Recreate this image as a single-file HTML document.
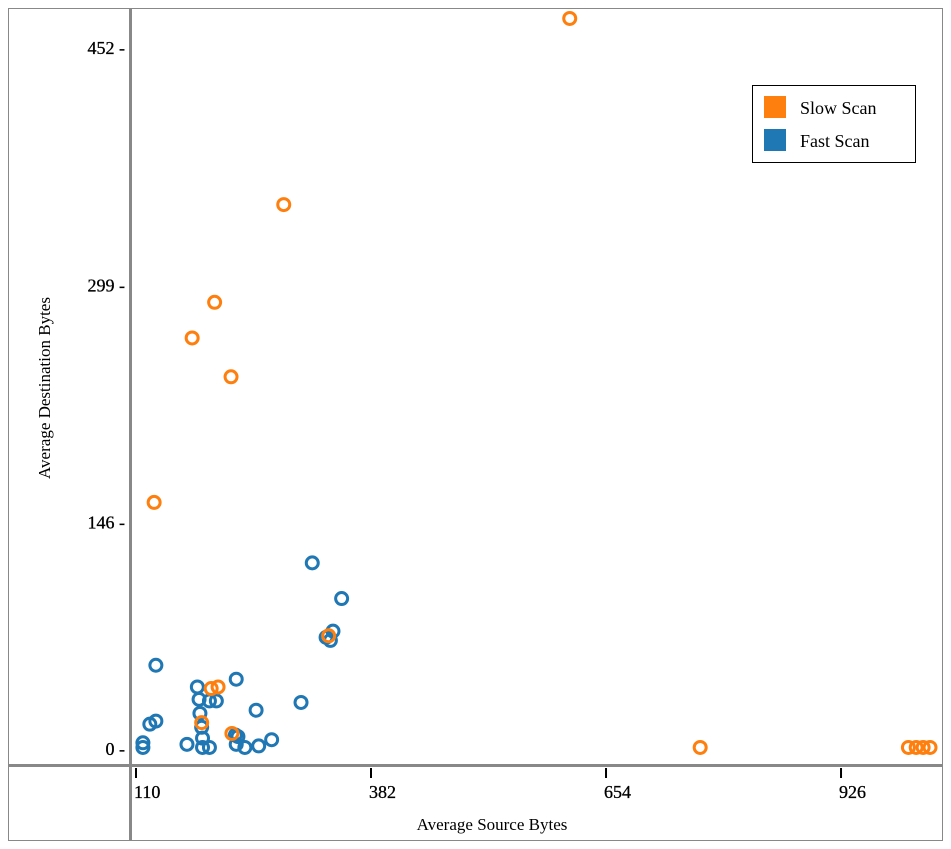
<!DOCTYPE html>
<html><head><meta charset="utf-8"><style>
body{margin:0;background:#fff;}
svg{display:block;font-family:"Liberation Serif",serif;}
</style></head><body>
<svg id="chart" width="951" height="849">
<rect x="8.5" y="8.5" width="934" height="832" fill="#fff" stroke="#888"/>
<line x1="130.5" y1="8" x2="130.5" y2="840" stroke="#888" stroke-width="3"/>
<line x1="8" y1="765.5" x2="942" y2="765.5" stroke="#888" stroke-width="3"/>
<g id="ticks"></g>
<g id="pts"></g>
<text x="492" y="830" font-size="17" text-anchor="middle">Average Source Bytes</text>
<text transform="translate(50,388) rotate(-90)" font-size="17" text-anchor="middle">Average Destination Bytes</text>
<g>
<rect x="752.5" y="85.5" width="163" height="77" fill="#fff" stroke="#000"/>
<rect x="764" y="96" width="22" height="22" fill="#ff7f0e"/>
<text x="800" y="114" font-size="18">Slow Scan</text>
<rect x="764" y="129" width="22" height="22" fill="#1f77b4"/>
<text x="800" y="147" font-size="18">Fast Scan</text>
</g>
</svg>
<script>
const xTicks=[110,382,654,926];
const yTicks=[0,146,299,452];
const slowX=[612,281,201,175,220,131,333,197,205,186,221,763,1004,1013,1021,1029];
const slowY=[471,351,288,265,240,159,73,39,40,17,10,1,1,1,1,1];
const fastX=[314,348,338,330,335,133,226,181,183,195,203,301,249,184,126,133,186,187,267,118,118,169,225,228,226,187,195,236,252];
const fastY=[120,97,76,72,70,54,45,40,32,31,31,30,25,23,16,18,14,7,6,4,1,3,9,8,3,1,1,1,2];
const sx=v=>136+(v-110)*0.864;
const sy=v=>749-v*1.551;
const NS='http://www.w3.org/2000/svg';
const tg=document.getElementById('ticks');
function mk(tag,attrs,parent){const e=document.createElementNS(NS,tag);for(const k in attrs)e.setAttribute(k,attrs[k]);parent.appendChild(e);return e;}
xTicks.forEach(t=>{
 const l=mk('line',{x1:sx(t),x2:sx(t),y1:768,y2:778,stroke:'#000','stroke-width':2},tg);
 
 
 const tx=mk('text',{x:sx(t)-2,y:798,'font-size':18,'stroke':'#000','stroke-width':0.3},tg);
 tx.textContent=t;
 
 
});
yTicks.forEach(t=>{
 const tx=mk('text',{x:125,y:sy(t)+6,'font-size':18,'text-anchor':'end','stroke':'#000','stroke-width':0.3},tg);
 tx.textContent=t+' -';
 
 
});
const pg=document.getElementById('pts');
function draw(xs,ys,col,name){xs.forEach((x,i)=>{
 const c=mk('circle',{cx:sx(x),cy:sy(ys[i]),r:6,fill:'none',stroke:col,'stroke-width':3},pg);
 
 
});}
draw(fastX,fastY,'#1f77b4','fast-scan-point');
draw(slowX,slowY,'#ff7f0e','slow-scan-point');
</script>
</body></html>
